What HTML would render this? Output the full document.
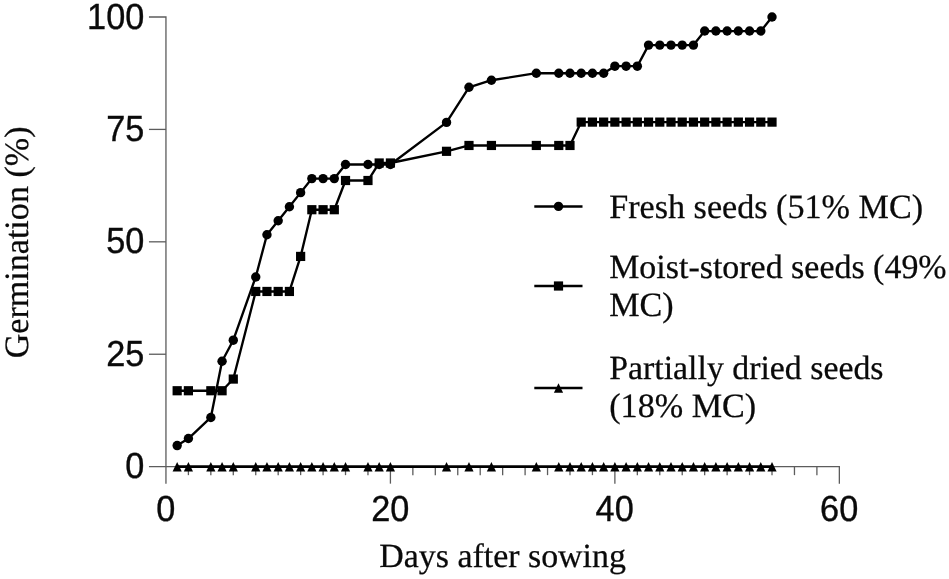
<!DOCTYPE html>
<html lang="en"><head><meta charset="utf-8"><title>Germination chart</title>
<style>html,body{margin:0;padding:0;background:#fff}body{width:949px;height:579px;overflow:hidden}svg{display:block}text{text-rendering:geometricPrecision}.s{font-family:"Liberation Serif",serif;fill:#0a0a0a;stroke:#0a0a0a;stroke-width:.25}.a{font-family:"Liberation Sans",sans-serif;fill:#0a0a0a;stroke:#0a0a0a;stroke-width:.35}</style></head><body>
<svg width="949" height="579" viewBox="0 0 949 579">
<rect width="949" height="579" fill="#fff"/>
<g stroke="#5c5c5c" stroke-width="1.3" fill="none">
<path d="M148.95 17.0H165.95V483.65"/>
<path d="M148.95 466.65H839.35v17"/>
<path d="M148.95 354.24H165.95"/>
<path d="M148.95 241.82H165.95"/>
<path d="M148.95 129.41H165.95"/>
<path d="M188.4 466.65v8.5"/>
<path d="M210.84 466.65v8.5"/>
<path d="M233.29 466.65v8.5"/>
<path d="M255.74 466.65v8.5"/>
<path d="M278.18 466.65v8.5"/>
<path d="M300.63 466.65v8.5"/>
<path d="M323.08 466.65v8.5"/>
<path d="M345.52 466.65v8.5"/>
<path d="M367.97 466.65v8.5"/>
<path d="M390.42 466.65v17"/>
<path d="M412.86 466.65v8.5"/>
<path d="M435.31 466.65v8.5"/>
<path d="M457.76 466.65v8.5"/>
<path d="M480.2 466.65v8.5"/>
<path d="M502.65 466.65v8.5"/>
<path d="M525.1 466.65v8.5"/>
<path d="M547.54 466.65v8.5"/>
<path d="M569.99 466.65v8.5"/>
<path d="M592.44 466.65v8.5"/>
<path d="M614.88 466.65v17"/>
<path d="M637.33 466.65v8.5"/>
<path d="M659.78 466.65v8.5"/>
<path d="M682.22 466.65v8.5"/>
<path d="M704.67 466.65v8.5"/>
<path d="M727.12 466.65v8.5"/>
<path d="M749.56 466.65v8.5"/>
<path d="M772.01 466.65v8.5"/>
<path d="M794.46 466.65v8.5"/>
<path d="M816.9 466.65v8.5"/>
</g>
<text class="a" transform="translate(144.35 478.25) scale(1 1.06)" font-size="34.3" text-anchor="end">0</text>
<text class="a" transform="translate(144.35 365.84) scale(1 1.06)" font-size="34.3" text-anchor="end">25</text>
<text class="a" transform="translate(144.35 253.42) scale(1 1.06)" font-size="34.3" text-anchor="end">50</text>
<text class="a" transform="translate(144.35 141.01) scale(1 1.06)" font-size="34.3" text-anchor="end">75</text>
<text class="a" transform="translate(144.35 28.60) scale(1 1.06)" font-size="34.3" text-anchor="end">100</text>
<text class="a" transform="translate(165.75 521.1) scale(1 1.06)" font-size="34.3" text-anchor="middle">0</text>
<text class="a" transform="translate(390.22 521.1) scale(1 1.06)" font-size="34.3" text-anchor="middle">20</text>
<text class="a" transform="translate(614.68 521.1) scale(1 1.06)" font-size="34.3" text-anchor="middle">40</text>
<text class="a" transform="translate(839.15 521.1) scale(1 1.06)" font-size="34.3" text-anchor="middle">60</text>
<text class="s" x="502.6" y="567.3" font-size="33.9" text-anchor="middle">Days after sowing</text>
<text class="s" transform="translate(28.2 242.4) rotate(-90)" font-size="34.1" text-anchor="middle">Germination (%)</text>
<g stroke="#000" stroke-width="2.35" fill="none" stroke-linejoin="round">
<polyline points="177.17,390.74 188.4,390.74 210.84,390.74 222.07,390.74 233.29,379.06 255.74,291.46 266.96,291.46 278.18,291.46 289.41,291.46 300.63,256.42 311.85,209.71 323.08,209.71 334.3,209.71 345.52,180.51 367.97,180.51 379.19,162.99 390.42,162.99 446.53,151.31 468.98,145.47 491.43,145.47 536.32,145.47 558.77,145.47 569.99,145.47 581.21,122.11 592.44,122.11 603.66,122.11 614.88,122.11 626.11,122.11 637.33,122.11 648.55,122.11 659.78,122.11 671.0,122.11 682.22,122.11 693.45,122.11 704.67,122.11 715.89,122.11 727.12,122.11 738.34,122.11 749.56,122.11 760.79,122.11 772.01,122.11"/>
<polyline points="177.17,445.57 188.4,438.55 210.84,417.47 222.07,361.26 233.29,340.19 255.74,276.95 266.96,234.8 278.18,220.75 289.41,206.7 300.63,192.64 311.85,178.59 323.08,178.59 334.3,178.59 345.52,164.54 367.97,164.54 379.19,164.54 390.42,164.54 446.53,122.39 468.98,87.26 491.43,80.23 536.32,73.21 558.77,73.21 569.99,73.21 581.21,73.21 592.44,73.21 603.66,73.21 614.88,66.18 626.11,66.18 637.33,66.18 648.55,45.1 659.78,45.1 671.0,45.1 682.22,45.1 693.45,45.1 704.67,31.05 715.89,31.05 727.12,31.05 738.34,31.05 749.56,31.05 760.79,31.05 772.01,17.0"/>
<path d="M177.17 466.65H772.01" stroke-width="2.7"/>
</g>
<g fill="#000">
<rect x="172.57" y="386.14" width="9.2" height="9.2"/>
<rect x="183.80" y="386.14" width="9.2" height="9.2"/>
<rect x="206.24" y="386.14" width="9.2" height="9.2"/>
<rect x="217.47" y="386.14" width="9.2" height="9.2"/>
<rect x="228.69" y="374.46" width="9.2" height="9.2"/>
<rect x="251.14" y="286.86" width="9.2" height="9.2"/>
<rect x="262.36" y="286.86" width="9.2" height="9.2"/>
<rect x="273.58" y="286.86" width="9.2" height="9.2"/>
<rect x="284.81" y="286.86" width="9.2" height="9.2"/>
<rect x="296.03" y="251.82" width="9.2" height="9.2"/>
<rect x="307.25" y="205.11" width="9.2" height="9.2"/>
<rect x="318.48" y="205.11" width="9.2" height="9.2"/>
<rect x="329.70" y="205.11" width="9.2" height="9.2"/>
<rect x="340.92" y="175.91" width="9.2" height="9.2"/>
<rect x="363.37" y="175.91" width="9.2" height="9.2"/>
<rect x="374.59" y="158.39" width="9.2" height="9.2"/>
<rect x="385.82" y="158.39" width="9.2" height="9.2"/>
<rect x="441.93" y="146.71" width="9.2" height="9.2"/>
<rect x="464.38" y="140.87" width="9.2" height="9.2"/>
<rect x="486.83" y="140.87" width="9.2" height="9.2"/>
<rect x="531.72" y="140.87" width="9.2" height="9.2"/>
<rect x="554.17" y="140.87" width="9.2" height="9.2"/>
<rect x="565.39" y="140.87" width="9.2" height="9.2"/>
<rect x="576.61" y="117.51" width="9.2" height="9.2"/>
<rect x="587.84" y="117.51" width="9.2" height="9.2"/>
<rect x="599.06" y="117.51" width="9.2" height="9.2"/>
<rect x="610.28" y="117.51" width="9.2" height="9.2"/>
<rect x="621.51" y="117.51" width="9.2" height="9.2"/>
<rect x="632.73" y="117.51" width="9.2" height="9.2"/>
<rect x="643.95" y="117.51" width="9.2" height="9.2"/>
<rect x="655.18" y="117.51" width="9.2" height="9.2"/>
<rect x="666.40" y="117.51" width="9.2" height="9.2"/>
<rect x="677.62" y="117.51" width="9.2" height="9.2"/>
<rect x="688.85" y="117.51" width="9.2" height="9.2"/>
<rect x="700.07" y="117.51" width="9.2" height="9.2"/>
<rect x="711.29" y="117.51" width="9.2" height="9.2"/>
<rect x="722.52" y="117.51" width="9.2" height="9.2"/>
<rect x="733.74" y="117.51" width="9.2" height="9.2"/>
<rect x="744.96" y="117.51" width="9.2" height="9.2"/>
<rect x="756.19" y="117.51" width="9.2" height="9.2"/>
<rect x="767.41" y="117.51" width="9.2" height="9.2"/>
<circle cx="177.17" cy="445.57" r="4.7"/>
<circle cx="188.4" cy="438.55" r="4.7"/>
<circle cx="210.84" cy="417.47" r="4.7"/>
<circle cx="222.07" cy="361.26" r="4.7"/>
<circle cx="233.29" cy="340.19" r="4.7"/>
<circle cx="255.74" cy="276.95" r="4.7"/>
<circle cx="266.96" cy="234.8" r="4.7"/>
<circle cx="278.18" cy="220.75" r="4.7"/>
<circle cx="289.41" cy="206.7" r="4.7"/>
<circle cx="300.63" cy="192.64" r="4.7"/>
<circle cx="311.85" cy="178.59" r="4.7"/>
<circle cx="323.08" cy="178.59" r="4.7"/>
<circle cx="334.3" cy="178.59" r="4.7"/>
<circle cx="345.52" cy="164.54" r="4.7"/>
<circle cx="367.97" cy="164.54" r="4.7"/>
<circle cx="379.19" cy="164.54" r="4.7"/>
<circle cx="390.42" cy="164.54" r="4.7"/>
<circle cx="446.53" cy="122.39" r="4.7"/>
<circle cx="468.98" cy="87.26" r="4.7"/>
<circle cx="491.43" cy="80.23" r="4.7"/>
<circle cx="536.32" cy="73.21" r="4.7"/>
<circle cx="558.77" cy="73.21" r="4.7"/>
<circle cx="569.99" cy="73.21" r="4.7"/>
<circle cx="581.21" cy="73.21" r="4.7"/>
<circle cx="592.44" cy="73.21" r="4.7"/>
<circle cx="603.66" cy="73.21" r="4.7"/>
<circle cx="614.88" cy="66.18" r="4.7"/>
<circle cx="626.11" cy="66.18" r="4.7"/>
<circle cx="637.33" cy="66.18" r="4.7"/>
<circle cx="648.55" cy="45.1" r="4.7"/>
<circle cx="659.78" cy="45.1" r="4.7"/>
<circle cx="671.0" cy="45.1" r="4.7"/>
<circle cx="682.22" cy="45.1" r="4.7"/>
<circle cx="693.45" cy="45.1" r="4.7"/>
<circle cx="704.67" cy="31.05" r="4.7"/>
<circle cx="715.89" cy="31.05" r="4.7"/>
<circle cx="727.12" cy="31.05" r="4.7"/>
<circle cx="738.34" cy="31.05" r="4.7"/>
<circle cx="749.56" cy="31.05" r="4.7"/>
<circle cx="760.79" cy="31.05" r="4.7"/>
<circle cx="772.01" cy="17.0" r="4.7"/>
<path d="M177.17 462.05l4.6 9.5h-9.2z"/>
<path d="M188.4 462.05l4.6 9.5h-9.2z"/>
<path d="M210.84 462.05l4.6 9.5h-9.2z"/>
<path d="M222.07 462.05l4.6 9.5h-9.2z"/>
<path d="M233.29 462.05l4.6 9.5h-9.2z"/>
<path d="M255.74 462.05l4.6 9.5h-9.2z"/>
<path d="M266.96 462.05l4.6 9.5h-9.2z"/>
<path d="M278.18 462.05l4.6 9.5h-9.2z"/>
<path d="M289.41 462.05l4.6 9.5h-9.2z"/>
<path d="M300.63 462.05l4.6 9.5h-9.2z"/>
<path d="M311.85 462.05l4.6 9.5h-9.2z"/>
<path d="M323.08 462.05l4.6 9.5h-9.2z"/>
<path d="M334.3 462.05l4.6 9.5h-9.2z"/>
<path d="M345.52 462.05l4.6 9.5h-9.2z"/>
<path d="M367.97 462.05l4.6 9.5h-9.2z"/>
<path d="M379.19 462.05l4.6 9.5h-9.2z"/>
<path d="M390.42 462.05l4.6 9.5h-9.2z"/>
<path d="M446.53 462.05l4.6 9.5h-9.2z"/>
<path d="M468.98 462.05l4.6 9.5h-9.2z"/>
<path d="M491.43 462.05l4.6 9.5h-9.2z"/>
<path d="M536.32 462.05l4.6 9.5h-9.2z"/>
<path d="M558.77 462.05l4.6 9.5h-9.2z"/>
<path d="M569.99 462.05l4.6 9.5h-9.2z"/>
<path d="M581.21 462.05l4.6 9.5h-9.2z"/>
<path d="M592.44 462.05l4.6 9.5h-9.2z"/>
<path d="M603.66 462.05l4.6 9.5h-9.2z"/>
<path d="M614.88 462.05l4.6 9.5h-9.2z"/>
<path d="M626.11 462.05l4.6 9.5h-9.2z"/>
<path d="M637.33 462.05l4.6 9.5h-9.2z"/>
<path d="M648.55 462.05l4.6 9.5h-9.2z"/>
<path d="M659.78 462.05l4.6 9.5h-9.2z"/>
<path d="M671.0 462.05l4.6 9.5h-9.2z"/>
<path d="M682.22 462.05l4.6 9.5h-9.2z"/>
<path d="M693.45 462.05l4.6 9.5h-9.2z"/>
<path d="M704.67 462.05l4.6 9.5h-9.2z"/>
<path d="M715.89 462.05l4.6 9.5h-9.2z"/>
<path d="M727.12 462.05l4.6 9.5h-9.2z"/>
<path d="M738.34 462.05l4.6 9.5h-9.2z"/>
<path d="M749.56 462.05l4.6 9.5h-9.2z"/>
<path d="M760.79 462.05l4.6 9.5h-9.2z"/>
<path d="M772.01 462.05l4.6 9.5h-9.2z"/>
</g>
<g stroke="#000" stroke-width="2.35">
<path d="M534.3 206.45H582.5"/>
<path d="M534.3 286.0H582.5"/>
<path d="M534.3 387.95H582.5"/>
</g>
<g fill="#000"><circle cx="558.5" cy="206.4" r="4.7"/><rect x="553.9" y="281.4" width="9.2" height="9.2"/><path d="M558.5 383.2l4.6 9.55h-9.2z"/></g>
<text class="s" x="609.2" y="217.5" font-size="34.15">Fresh seeds (51% MC)</text>
<text class="s" x="609.2" y="278.2" font-size="33.95">Moist-stored seeds (49%</text>
<text class="s" x="609.2" y="316.3" font-size="34.15">MC)</text>
<text class="s" x="609.2" y="379.4" font-size="33.85">Partially dried seeds</text>
<text class="s" x="609.2" y="417.3" font-size="34.15">(18% MC)</text>
</svg></body></html>
